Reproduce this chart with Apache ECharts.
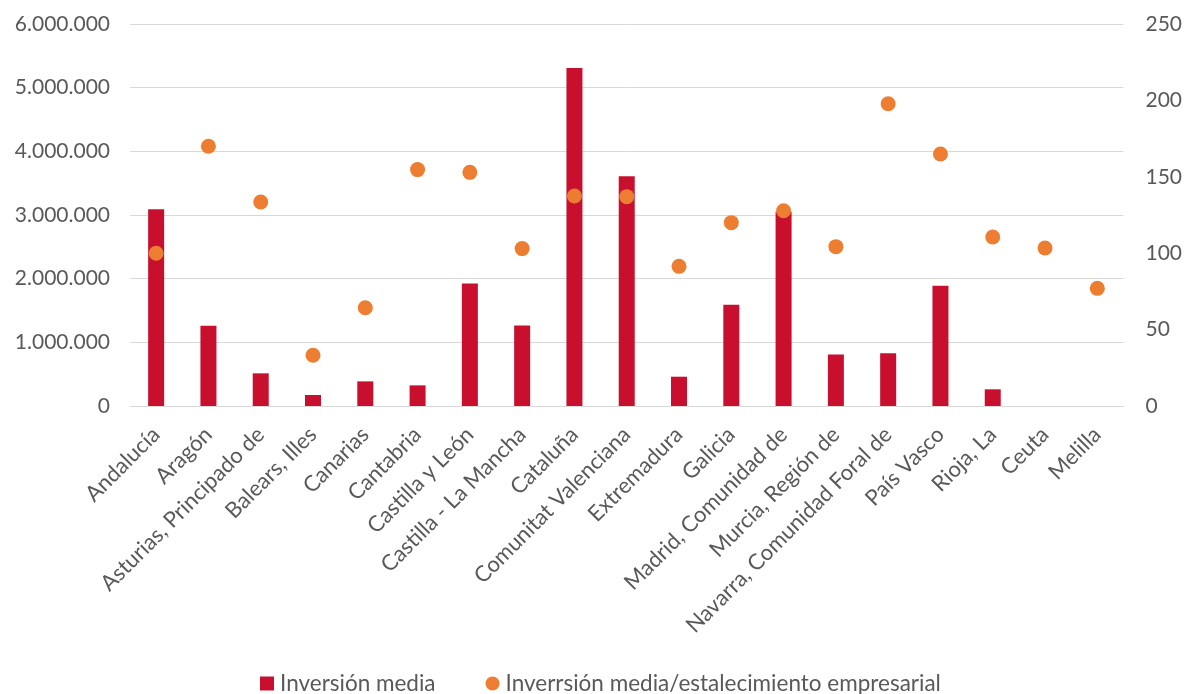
<!DOCTYPE html>
<html>
<head>
<meta charset="utf-8">
<script src="https://cdn.jsdelivr.net/npm/echarts@6/dist/echarts.min.js"></script>
<style>
html,body{margin:0;padding:0;background:#fff;}
#chart{width:1185px;height:694px;}
</style>
</head>
<body>
<div id="chart"></div>
<script>
const categories = ["Andalucía","Aragón","Asturias, Principado de","Balears, Illes","Canarias","Cantabria","Castilla y León","Castilla - La Mancha","Cataluña","Comunitat Valenciana","Extremadura","Galicia","Madrid, Comunidad de","Murcia, Región de","Navarra, Comunidad Foral de","País Vasco","Rioja, La","Ceuta","Melilla"];
const inversionMedia = [3090000,1260000,513000,173000,387000,324000,1925000,1265000,5310000,3610000,460000,1590000,3050000,810000,828000,1890000,262000,0,0];
const inversionPorEstablecimiento = [100,170,133.5,33.2,64.3,154.7,152.9,103,137.4,137,91.4,120,127.8,104.3,197.8,164.9,110.6,103.4,77];
const leftTicks = [0,1000000,2000000,3000000,4000000,5000000,6000000];
const rightTicks = [0,50,100,150,200,250];

const fontFamily = "Lato, 'Open Sans', sans-serif";
const textColor = "#595959";
const fs = 21;
const chart = echarts.init(document.getElementById('chart'));
function fmtDots(v){ return String(v).replace(/\B(?=(\d{3})+(?!\d))/g, '.'); }
chart.setOption({
  animation:false,
  backgroundColor:'#fff',
  textStyle:{fontFamily:fontFamily},
  grid:{left:130,right:60,top:24,bottom:288,containLabel:false},
  legend:{
    top:672, left:260, padding:0, itemGap:50, itemWidth:14, itemHeight:14,
    textStyle:{color:textColor,fontSize:22.5,fontFamily:fontFamily,padding:[0,0,0,1]},
    data:[{name:'Inversión media',icon:'rect'},{name:'Inverrsión media/estalecimiento empresarial',icon:'circle'}]
  },
  xAxis:{
    type:'category', data:categories,
    axisLine:{lineStyle:{color:'#d9d9d9'}},
    axisTick:{show:false},
    axisLabel:{interval:0,rotate:45,color:textColor,fontSize:22,margin:25,fontFamily:fontFamily}
  },
  yAxis:[
    {type:'value',min:leftTicks[0],max:leftTicks[leftTicks.length-1],interval:leftTicks[1]-leftTicks[0],
     axisLine:{show:false},axisTick:{show:false},
     splitLine:{lineStyle:{color:'#d9d9d9',width:1}},
     axisLabel:{color:textColor,fontSize:fs,margin:20,formatter:fmtDots,fontFamily:fontFamily}},
    {type:'value',min:rightTicks[0],max:rightTicks[rightTicks.length-1],interval:rightTicks[1]-rightTicks[0],
     position:'right',axisLine:{show:false},axisTick:{show:false},splitLine:{show:false},
     axisLabel:{color:textColor,fontSize:fs,margin:22,fontFamily:fontFamily}}
  ],
  series:[
    {name:'Inversión media',type:'bar',data:inversionMedia,barWidth:16,yAxisIndex:0,
     itemStyle:{color:'#C8102E'}},
    {name:'Inverrsión media/estalecimiento empresarial',type:'scatter',data:inversionPorEstablecimiento,yAxisIndex:1,
     symbol:'circle',symbolSize:15,itemStyle:{color:'#ED7D31',opacity:1}}
  ]
});
</script>
</body>
</html>
